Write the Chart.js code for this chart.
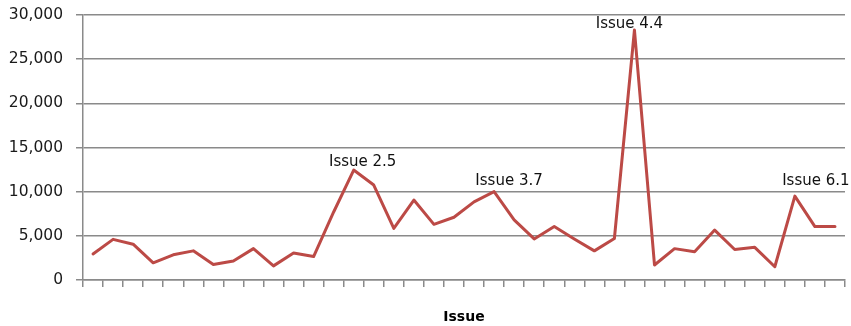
<!DOCTYPE html>
<html>
<head>
<meta charset="utf-8">
<script src="https://cdn.jsdelivr.net/npm/chart.js@4/dist/chart.umd.min.js"></script>
<style>
  html, body { margin: 0; padding: 0; background: #ffffff; }
  #wrap { width: 851px; height: 326px; }
</style>
</head>
<body>
<div id="wrap"><canvas id="chart" width="851" height="326"></canvas></div>
<script>
// Issues, in publication order (volume.number)
const issues = [
  '1.1', '1.2', '1.3', '1.4', '1.5', '1.6', '1.7', '1.8', '1.9',
  '2.1', '2.2', '2.3', '2.4', '2.5',
  '3.1', '3.2', '3.3', '3.4', '3.5', '3.6', '3.7', '3.8', '3.9', '3.10',
  '4.1', '4.2', '4.3', '4.4', '4.5', '4.6',
  '5.1', '5.2', '5.3', '5.4', '5.5',
  '6.1', '6.2', '6.3'
];

// Count per issue
const counts = [
  2950, 4600, 4050, 1950, 2850, 3300, 1750, 2150, 3550,
  1600, 3050, 2650, 7700, 12450,
  10750, 5850, 9050, 6300, 7100, 8850, 10000, 6800, 4650, 6050,
  4650, 3300, 4700, 28300, 1700, 3550,
  3200, 5650, 3450, 3700, 1500,
  9500, 6050, 6050
];

// Issues that get a callout label
const calloutIssues = ['2.5', '3.7', '4.4', '6.1'];

// Y axis range and spacing
const yMin = 0;
const yMax = 30000;
const yStep = 5000;

const AXIS_GREY = '#8a8a8a';
const LINE_RED = '#BC4A46';

// Text callouts placed just above the named points
const calloutPlugin = {
  id: 'issueCallouts',
  afterDatasetsDraw(chart, args, opts) {
    const meta = chart.getDatasetMeta(0);
    const ctx = chart.ctx;
    ctx.save();
    ctx.font = opts.font;
    ctx.fillStyle = opts.color;
    ctx.textAlign = 'center';
    ctx.textBaseline = 'alphabetic';
    calloutIssues.forEach((name, k) => {
      const i = issues.indexOf(name);
      const pt = meta.data[i];
      const off = opts.offsets[k] || { dx: 0, dy: 4 };
      ctx.fillText('Issue ' + name, pt.x + off.dx, pt.y - off.dy);
    });
    ctx.restore();
  }
};

new Chart(document.getElementById('chart'), {
  type: 'line',
  data: {
    labels: issues,
    datasets: [{
      data: counts,
      borderColor: LINE_RED,
      backgroundColor: LINE_RED,
      borderWidth: 3,
      borderJoinStyle: 'round',
      borderCapStyle: 'round',
      pointRadius: 0,
      tension: 0,
      fill: false
    }]
  },
  options: {
    responsive: false,
    devicePixelRatio: 1,
    animation: false,
    layout: { padding: { top: 15, right: 6, left: 0, bottom: 0 } },
    plugins: {
      legend: { display: false },
      tooltip: { enabled: false },
      issueCallouts: {
        font: '15px "DejaVu Sans", sans-serif',
        color: '#111111',
        offsets: [
          { dx: 9, dy: 4 },
          { dx: 15, dy: 7 },
          { dx: -5, dy: 2 },
          { dx: 21, dy: 11 }
        ]
      }
    },
    scales: {
      x: {
        type: 'category',
        offset: true,
        afterFit(scale) {
          scale.height = 46;
          scale.paddingLeft = 0;
          scale.paddingRight = 0;
        },
        grid: {
          offset: true,
          drawOnChartArea: false,
          drawTicks: true,
          tickLength: 7,
          color: AXIS_GREY,
          lineWidth: 1.5
        },
        border: { display: true, color: AXIS_GREY, width: 1.5 },
        ticks: { display: false },
        title: {
          display: true,
          text: 'Issue',
          color: '#000000',
          font: { family: '"DejaVu Sans", sans-serif', size: 14, weight: 'bold' },
          padding: { top: 0, bottom: 0 }
        }
      },
      y: {
        min: yMin,
        max: yMax,
        afterFit(scale) {
          scale.width = 83;
          scale.paddingTop = 0;
          scale.paddingBottom = 0;
        },
        grid: {
          drawOnChartArea: true,
          drawTicks: true,
          tickLength: 7,
          color: AXIS_GREY,
          lineWidth: 1.5
        },
        border: { display: true, color: AXIS_GREY, width: 1.5 },
        ticks: {
          stepSize: yStep,
          padding: 13,
          color: '#1a1a1a',
          font: { family: '"DejaVu Sans", sans-serif', size: 15.5 },
          callback: (v) => v.toLocaleString('en-US')
        }
      }
    }
  },
  plugins: [calloutPlugin]
});
</script>
</body>
</html>
